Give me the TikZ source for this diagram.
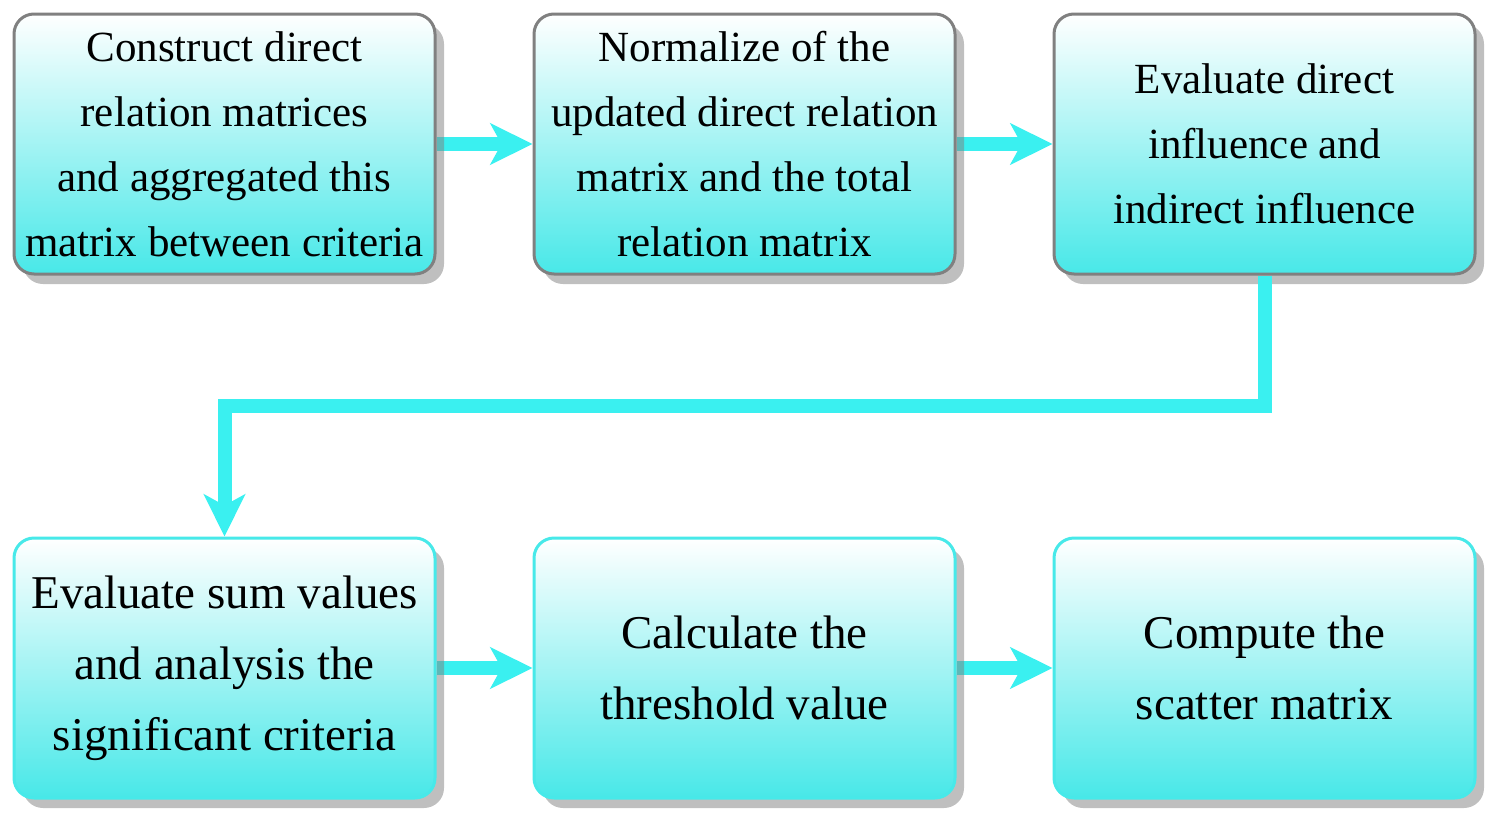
\documentclass[tikz,border=0pt]{standalone}
\usepackage{fontspec}
\setmainfont{Liberation Serif}
\usetikzlibrary{positioning,shadows,backgrounds,arrows.meta}

\definecolor{flowcyan}{RGB}{58,240,240}
\definecolor{boxcyan}{RGB}{72,232,232}
\definecolor{boxgray}{RGB}{128,128,128}

\tikzset{
  stepbox/.style={draw, rounded corners=20pt, line width=3pt,
    minimum width=421pt, minimum height=260pt, inner sep=0pt,
    align=center, top color=white, bottom color=boxcyan,
    drop shadow={shadow xshift=9pt, shadow yshift=-10pt,
      fill=boxgray, opacity=0.5}},
  upperbox/.style={stepbox, draw=boxgray,
    font=\fontsize{43pt}{65pt}\selectfont},
  lowerbox/.style={stepbox, draw=boxcyan!90!flowcyan,
    font=\fontsize{47pt}{71pt}\selectfont},
  flow/.style={draw=flowcyan, line width=14pt,
    -{Stealth[length=42pt, width=41pt, inset=11pt]}}
}

\begin{document}
\begin{tikzpicture}[x=1pt, y=-1pt, node distance=96pt]
\useasboundingbox (0,0) rectangle (1495,819);

% upper row
\node (construct) [upperbox] at (224.5,144)
  {Construct direct\\relation matrices\\and aggregated this\\matrix between criteria};
\node (normalize) [upperbox, right=of construct]
  {Normalize of the\\updated direct relation\\matrix and the total\\relation matrix};
\node (influence) [upperbox, right=of normalize]
  {Evaluate direct\\influence and\\indirect influence};

% lower row
\node (sumvalues) [lowerbox] at (224.5,668)
  {Evaluate sum values\\and analysis the\\significant criteria};
\node (threshold) [lowerbox, right=of sumvalues]
  {Calculate the\\threshold value};
\node (scatter) [lowerbox, right=of threshold]
  {Compute the\\scatter matrix};

\begin{scope}[on background layer]
\draw [flow] (construct.east) -- (normalize.west);
\draw [flow] (normalize.east) -- (influence.west);
\draw [flow] (sumvalues.east) -- (threshold.west);
\draw [flow] (threshold.east) -- (scatter.west);
\end{scope}

% link between the rows
\coordinate (turn) at (influence.south |- 0,406);
\draw [flow, line join=miter] (influence.south) -- (turn) -| (sumvalues.north);
\end{tikzpicture}
\end{document}
